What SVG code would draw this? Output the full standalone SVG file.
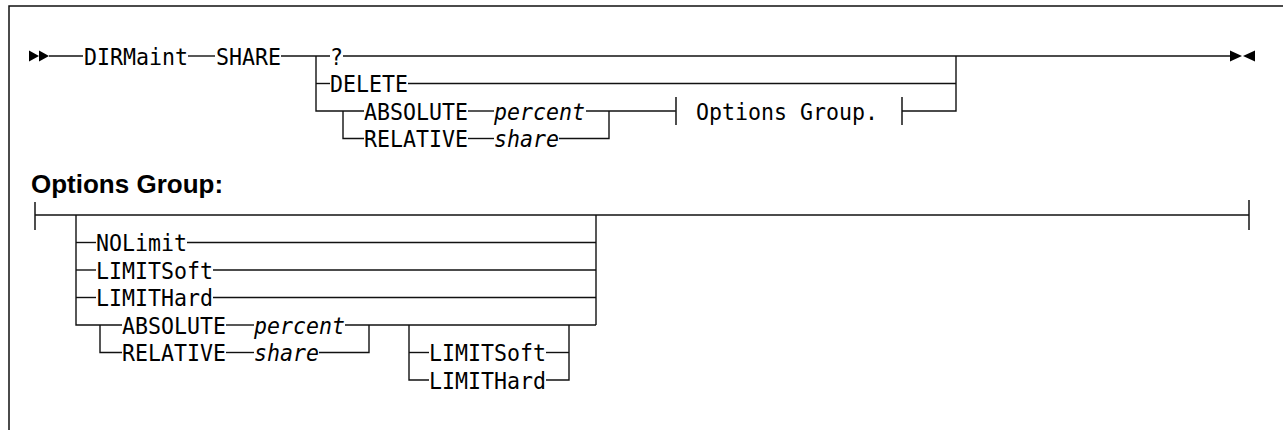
<svg xmlns="http://www.w3.org/2000/svg" width="1283" height="430" viewBox="0 0 1283 430">
<style>
.t{font-family:"DejaVu Sans Mono","Liberation Mono",monospace;font-size:23px;fill:#000}
.i{font-family:"DejaVu Sans Mono","Liberation Mono",monospace;font-size:23px;font-style:italic;fill:#000}
.h{font-family:"Liberation Sans",Arial,sans-serif;font-size:26px;font-weight:bold;fill:#000}
.ln{fill:none;stroke:#111;stroke-width:1.4}
.bar{fill:none;stroke:#222;stroke-width:1.6}
.ar{fill:#000}
</style>
<rect x="9" y="6" width="1300" height="450" fill="#fff" stroke="#111" stroke-width="1.5"/>

<g id="connectors">
  <!-- main diagram -->
  <polygon class="ar" points="29,50.5 39,56 29,61.5"/>
  <polygon class="ar" points="39,50.5 49,56 39,61.5"/>
  <path class="ln" d="M49 56 H83"/>
  <path class="ln" d="M188 56 H215"/>
  <path class="ln" d="M281 56 H330"/>
  <path class="ln" d="M343 56 H1230"/>
  <path class="ln" d="M316 56 V111 H364"/>
  <path class="ln" d="M343 111 V138.5 H364"/>
  <path class="ln" d="M316 83.5 H330"/>
  <path class="ln" d="M408 83.5 H956"/>
  <path class="ln" d="M468 111 H494"/>
  <path class="ln" d="M586 111 H676"/>
  <path class="ln" d="M468 138.5 H494"/>
  <path class="ln" d="M559 138.5 H609 V111"/>
  <path class="bar" d="M676 97 V125"/>
  <path class="bar" d="M902 97 V125"/>
  <path class="ln" d="M902 111 H956 V56"/>
  <polygon class="ar" points="1230,50.5 1242,56 1230,61.5"/>
  <polygon class="ar" points="1255,50.5 1243,56 1255,61.5"/>

  <!-- options group -->
  <path class="bar" d="M35 202 V230"/>
  <path class="bar" d="M1249 200 V230"/>
  <path class="ln" d="M35 215 H1249"/>
  <path class="ln" d="M76 215 V325 H122"/>
  <path class="ln" d="M100 325 V352.5 H122"/>
  <path class="ln" d="M76 242.5 H96"/>
  <path class="ln" d="M187 242.5 H596"/>
  <path class="ln" d="M76 270 H96"/>
  <path class="ln" d="M213 270 H596"/>
  <path class="ln" d="M76 297.5 H96"/>
  <path class="ln" d="M213 297.5 H596"/>
  <path class="ln" d="M596 215 V325"/>
  <path class="ln" d="M226 325 H254"/>
  <path class="ln" d="M345 325 H596"/>
  <path class="ln" d="M226 352.5 H254"/>
  <path class="ln" d="M319 352.5 H369 V325"/>
  <path class="ln" d="M409 325 V380 H429"/>
  <path class="ln" d="M409 352.5 H429"/>
  <path class="ln" d="M546 352.5 H569"/>
  <path class="ln" d="M546 380 H569 V325"/>
</g>

<g id="n-dirmaint"><text class="t" x="84" y="64.5" textLength="104" lengthAdjust="spacingAndGlyphs">DIRMaint</text></g>
<g id="n-share"><text class="t" x="216" y="64.5" textLength="65" lengthAdjust="spacingAndGlyphs">SHARE</text></g>
<g id="n-question"><text class="t" x="330" y="64.5" textLength="13" lengthAdjust="spacingAndGlyphs">?</text></g>
<g id="n-delete"><text class="t" x="330" y="92" textLength="78" lengthAdjust="spacingAndGlyphs">DELETE</text></g>
<g id="n-absolute"><text class="t" x="364" y="119.5" textLength="104" lengthAdjust="spacingAndGlyphs">ABSOLUTE</text></g>
<g id="n-percent"><text class="i" x="494" y="119.5" textLength="91" lengthAdjust="spacingAndGlyphs">percent</text></g>
<g id="n-relative"><text class="t" x="364" y="147" textLength="104" lengthAdjust="spacingAndGlyphs">RELATIVE</text></g>
<g id="n-share-var"><text class="i" x="494" y="147" textLength="65" lengthAdjust="spacingAndGlyphs">share</text></g>
<g id="n-options-ref"><text class="t" x="696" y="119.5" textLength="182" lengthAdjust="spacingAndGlyphs">Options Group.</text></g>

<g id="n-heading"><text class="h" x="31" y="193">Options Group:</text></g>

<g id="n-nolimit"><text class="t" x="96" y="251" textLength="91" lengthAdjust="spacingAndGlyphs">NOLimit</text></g>
<g id="n-limitsoft"><text class="t" x="96" y="278.5" textLength="117" lengthAdjust="spacingAndGlyphs">LIMITSoft</text></g>
<g id="n-limithard"><text class="t" x="96" y="306" textLength="117" lengthAdjust="spacingAndGlyphs">LIMITHard</text></g>
<g id="n-og-absolute"><text class="t" x="122" y="333.5" textLength="104" lengthAdjust="spacingAndGlyphs">ABSOLUTE</text></g>
<g id="n-og-percent"><text class="i" x="254" y="333.5" textLength="91" lengthAdjust="spacingAndGlyphs">percent</text></g>
<g id="n-og-relative"><text class="t" x="122" y="361" textLength="104" lengthAdjust="spacingAndGlyphs">RELATIVE</text></g>
<g id="n-og-share"><text class="i" x="254" y="361" textLength="65" lengthAdjust="spacingAndGlyphs">share</text></g>
<g id="n-og-limitsoft"><text class="t" x="429" y="361" textLength="117" lengthAdjust="spacingAndGlyphs">LIMITSoft</text></g>
<g id="n-og-limithard"><text class="t" x="429" y="388.5" textLength="117" lengthAdjust="spacingAndGlyphs">LIMITHard</text></g>
</svg>
